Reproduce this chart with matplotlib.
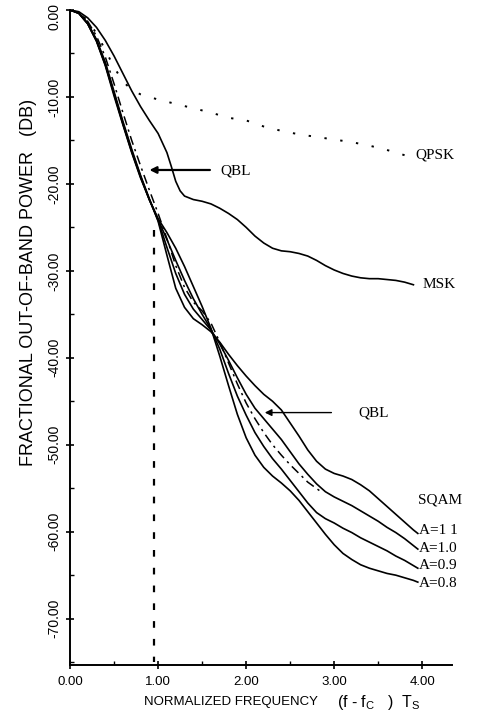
import matplotlib
matplotlib.use('Agg')
from matplotlib import pyplot as plt
from matplotlib.transforms import ScaledTranslation

plt.rcParams['mathtext.fontset'] = 'custom'
plt.rcParams['mathtext.rm'] = 'Liberation Sans'

# normalized frequency grid for the SQAM curves
freq = [0, 0.1, 0.2, 0.3, 0.4, 0.5, 0.6, 0.7, 0.8, 0.9, 1.0, 1.1, 1.2, 1.3, 1.4, 1.5, 1.6, 1.7, 1.8, 1.9,
        2.0, 2.1, 2.2, 2.3, 2.4, 2.5, 2.6, 2.7, 2.8, 2.9, 3.0, 3.1, 3.2, 3.3, 3.4, 3.5, 3.6, 3.7, 3.8, 3.9, 3.95]
sqam_11 = [0, -0.35, -1.5, -3.4, -6.0, -9.4, -12.8, -16.0, -19.0, -21.7, -24.3, -28.2, -32.0, -34.2, -35.5, -36.2, -37.0, -38.2, -39.6, -40.9,
           -42.1, -43.2, -44.2, -45.0, -46.0, -47.5, -49.0, -50.6, -51.9, -52.8, -53.3, -53.6, -54.0, -54.6, -55.3, -56.2, -57.1, -58.0, -58.9, -59.8, -60.2]
sqam_10 = [0, -0.37, -1.55, -3.5, -6.2, -9.6, -13.0, -16.2, -19.1, -21.8, -24.2, -27.3, -30.3, -32.7, -34.4, -35.6, -36.8, -38.4, -40.3, -42.3,
           -44.2, -45.8, -47.0, -48.2, -49.4, -50.8, -52.2, -53.4, -54.5, -55.4, -56.0, -56.5, -57.0, -57.6, -58.2, -58.8, -59.5, -60.1, -60.8, -61.6, -62.0]
sqam_09 = [0, -0.38, -1.58, -3.55, -6.3, -9.7, -13.1, -16.3, -19.2, -21.8, -24.1, -26.4, -28.8, -31.1, -33.2, -35.0, -36.7, -39.0, -41.8, -44.4,
           -46.6, -48.6, -50.2, -51.6, -52.8, -54.1, -55.4, -56.7, -57.8, -58.5, -59.0, -59.6, -60.1, -60.7, -61.2, -61.7, -62.2, -62.8, -63.3, -63.9, -64.2]
sqam_08 = [0, -0.4, -1.6, -3.6, -6.4, -9.9, -13.2, -16.4, -19.3, -21.8, -24.0, -25.6, -27.4, -29.5, -31.8, -34.1, -36.6, -39.8, -43.2, -46.5,
           -49.2, -51.2, -52.6, -53.6, -54.4, -55.3, -56.4, -57.7, -59.0, -60.3, -61.5, -62.5, -63.2, -63.8, -64.2, -64.5, -64.8, -65.0, -65.3, -65.6, -65.8]

qbl_freq = [0, 0.1, 0.2, 0.3, 0.4, 0.5, 0.6, 0.7, 0.8, 0.9, 1.0, 1.1, 1.2, 1.3, 1.4, 1.5, 1.6, 1.7, 1.8, 1.9,
            2.0, 2.1, 2.2, 2.3, 2.4, 2.5, 2.6, 2.7, 2.85]
qbl = [0, -0.3, -1.3, -3.0, -5.4, -8.5, -11.8, -15.0, -17.9, -20.7, -23.4, -26.3, -29.4, -31.9, -33.6, -34.6, -36.0, -38.2, -40.6, -43.0,
       -45.2, -47.0, -48.6, -50.0, -51.2, -52.3, -53.3, -54.3, -55.4]

msk_freq = [0, 0.1, 0.2, 0.3, 0.4, 0.5, 0.6, 0.7, 0.8, 0.9, 1.0, 1.1, 1.15, 1.2, 1.25, 1.3, 1.4, 1.5, 1.6, 1.7, 1.8, 1.9,
            2.0, 2.1, 2.2, 2.3, 2.4, 2.5, 2.6, 2.7, 2.8, 2.9, 3.0, 3.1, 3.2, 3.3, 3.4, 3.5, 3.6, 3.7, 3.8, 3.9]
msk = [0, -0.2, -0.9, -2.0, -3.5, -5.3, -7.3, -9.3, -11.1, -12.7, -14.2, -16.4, -18.0, -19.7, -20.8, -21.4, -21.8, -22.0, -22.3, -22.8, -23.4, -24.1,
       -25.0, -26.0, -26.8, -27.4, -27.7, -27.8, -28.0, -28.3, -28.8, -29.4, -29.9, -30.3, -30.6, -30.8, -30.9, -30.9, -31.0, -31.1, -31.3, -31.6]

qpsk_freq = [0, 0.1, 0.2, 0.3, 0.4, 0.5, 0.6, 0.7, 0.8, 0.9, 1.0, 1.2, 1.4, 1.6, 1.8, 2.0, 2.2, 2.4, 2.6, 2.8, 3.0, 3.2, 3.4, 3.6, 3.8]
qpsk = [0, -0.3, -1.2, -2.7, -4.6, -6.6, -8.2, -9.2, -9.7, -10.0, -10.3, -10.8, -11.3, -11.8, -12.4, -12.7, -13.4, -13.9, -14.3, -14.6, -14.9, -15.2, -15.6, -16.1, -16.7]

sqam_labels = ["A=1 1", "A=1.0", "A=0.9", "A=0.8"]
xticks = [0, 1, 2, 3, 4]
yticks = [0, -10, -20, -30, -40, -50, -60, -70]

SERIF = "Liberation Serif"
SANS = "Liberation Sans"

fig = plt.figure(figsize=(4.8, 7.14), dpi=100)
ax = fig.add_axes([0.146, 0.069, 0.796, 0.917])

lw = 1.2
for ys in [sqam_11, sqam_10, sqam_09, sqam_08]:
    ax.plot(freq, ys, color="black", lw=lw)
ax.plot(qbl_freq, qbl, color="black", lw=1.1, linestyle=(0, (6, 3, 1.5, 3)))
ax.plot(msk_freq, msk, color="black", lw=lw)
ax.plot(qpsk_freq, qpsk, color="black", lw=1.4, linestyle=(0, (1.2, 7)))

# vertical dashed marker at fTs ~ 0.95
ax.plot([0.95, 0.95], [-25.3, -75], color="black", lw=1.6, linestyle=(0, (3, 5)))

# curve labels
ax.text(3.92, -16.7, "QPSK", family=SERIF, fontsize=11, va="center", ha="left")
ax.text(4.0, -31.6, "MSK", family=SERIF, fontsize=11, va="center", ha="left")
ax.text(3.95, -56.4, "SQAM", family=SERIF, fontsize=11, va="center", ha="left")
for lab, yv in zip(sqam_labels, [-59.9, -61.9, -63.9, -65.9]):
    ax.text(3.96, yv, lab, family=SERIF, fontsize=11, va="center", ha="left")

ax.annotate("", xy=(0.87, -18.4), xytext=(1.62, -18.4),
            arrowprops=dict(arrowstyle="-|>", color="black", lw=1.6, mutation_scale=10))
ax.text(1.71, -18.5, "QBL", family=SERIF, fontsize=11, va="center", ha="left")
ax.annotate("", xy=(2.18, -46.3), xytext=(3.0, -46.3),
            arrowprops=dict(arrowstyle="-|>", color="black", lw=1.0, mutation_scale=10))
ax.text(3.27, -46.3, "QBL", family=SERIF, fontsize=11, va="center", ha="left")

ax.set_xlim(0, 4.34)
ax.set_ylim(-75.3, 0)
ax.set_xticks(xticks)
ax.set_xticklabels(["%.2f" % v for v in xticks], family=SANS, fontsize=9.5)
ax.set_xticks([0.5, 1.5, 2.5, 3.5], minor=True)
ax.set_yticks(yticks)
ax.set_yticklabels(["%.2f" % v for v in yticks], family=SANS, fontsize=10,
                   rotation=90, va="center")
ax.set_yticks([-5, -15, -25, -35, -45, -55, -65, -75], minor=True)
ax.tick_params(which="major", direction="inout", length=6, width=1.2)
ax.tick_params(axis="x", which="major", pad=5)
ax.tick_params(which="minor", direction="in", length=3, width=1.0)
ax.spines[["top", "right"]].set_visible(False)
ax.spines[["left", "bottom"]].set_linewidth(1.4)

# nudge the top "0.00" label down so it stays inside the figure
top_lab = ax.get_yticklabels()[0]
top_lab.set_transform(top_lab.get_transform() + ScaledTranslation(0, -5 / 72, fig.dpi_scale_trans))

fig.text(29 / 480, 1 - 282 / 714, "FRACTIONAL OUT-OF-BAND POWER   (DB)", family=SANS,
         fontsize=13, rotation=90, ha="center", va="center")
fig.text(231 / 480, 1 - 702 / 714, "NORMALIZED FREQUENCY", family=SANS, fontsize=9.5,
         ha="center", va="center")
fig.text(337 / 480, 1 - 702 / 714, r"(f - f$_{\rm C}$   )  T$_{\rm S}$", family=SANS,
         fontsize=11.5, ha="left", va="center")

fig.savefig("out.png", dpi=100)
